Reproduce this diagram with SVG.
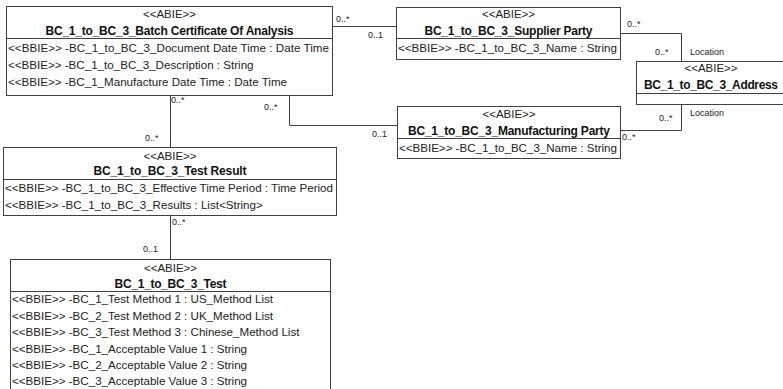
<svg xmlns="http://www.w3.org/2000/svg" width="783" height="389" viewBox="0 0 783 389">
<style>
.box{fill:#fff;stroke:#404040;stroke-width:1}
.sep{stroke:#404040;stroke-width:1}
.st{font-family:"Liberation Sans",Arial,sans-serif;font-size:11.5px;fill:#222;text-anchor:middle}
.tt{font-family:"Liberation Sans",Arial,sans-serif;font-size:12px;font-weight:bold;fill:#111;text-anchor:middle}
.at{font-family:"Liberation Sans",Arial,sans-serif;font-size:11.6px;fill:#222}
.lb{font-family:"Liberation Sans",Arial,sans-serif;font-size:9px;fill:#222}
.cn{fill:none;stroke:#404040;stroke-width:1}
</style>
<rect width="783" height="389" fill="#fff"/>
<g id="connectors">
<polyline class="cn" points="333,26.5 396,26.5"/>
<polyline class="cn" points="621,33.5 681.5,33.5 681.5,61"/>
<polyline class="cn" points="621,130.5 681.5,130.5 681.5,105"/>
<polyline class="cn" points="289.5,96 289.5,125.5 397,125.5"/>
<polyline class="cn" points="170.5,96 170.5,147"/>
<polyline class="cn" points="170.5,216 170.5,259"/>
<text class="lb" x="336" y="22">0..*</text>
<text class="lb" x="368" y="38">0..1</text>
<text class="lb" x="627" y="27">0..*</text>
<text class="lb" x="655" y="55">0..*</text>
<text class="lb" x="690" y="55">Location</text>
<text class="lb" x="659" y="121">0..*</text>
<text class="lb" x="690" y="116">Location</text>
<text class="lb" x="622" y="140">0..*</text>
<text class="lb" x="171" y="103">0..*</text>
<text class="lb" x="264" y="110">0..*</text>
<text class="lb" x="372" y="137">0..1</text>
<text class="lb" x="145" y="141">0..*</text>
<text class="lb" x="172" y="225">0..*</text>
<text class="lb" x="143" y="252">0..1</text>
</g>
<g id="batch">
<rect class="box" x="6.5" y="6.5" width="326" height="89"/>
<line class="sep" x1="6.5" y1="38.5" x2="332.5" y2="38.5"/>
<text class="st" x="169.5" y="18">&lt;&lt;ABIE&gt;&gt;</text>
<text class="tt" x="169.5" y="35" textLength="248">BC_1_to_BC_3_Batch Certificate Of Analysis</text>
<text class="at" x="8" y="52" textLength="321">&lt;&lt;BBIE&gt;&gt; -BC_1_to_BC_3_Document Date Time : Date Time</text>
<text class="at" x="8" y="69">&lt;&lt;BBIE&gt;&gt; -BC_1_to_BC_3_Description : String</text>
<text class="at" x="8" y="86">&lt;&lt;BBIE&gt;&gt; -BC_1_Manufacture Date Time : Date Time</text>
</g>
<g id="supplier">
<rect class="box" x="396.5" y="7.5" width="224" height="52"/>
<line class="sep" x1="396.5" y1="38.5" x2="620.5" y2="38.5"/>
<text class="st" x="508.5" y="18">&lt;&lt;ABIE&gt;&gt;</text>
<text class="tt" x="508.5" y="35" textLength="168">BC_1_to_BC_3_Supplier Party</text>
<text class="at" x="398" y="52" textLength="219">&lt;&lt;BBIE&gt;&gt; -BC_1_to_BC_3_Name : String</text>
</g>
<g id="address">
<rect class="box" x="636.5" y="61.5" width="155" height="43"/>
<line class="sep" x1="636.5" y1="93.5" x2="791" y2="93.5"/>
<text class="st" x="711" y="72">&lt;&lt;ABIE&gt;&gt;</text>
<text class="tt" x="711" y="89" textLength="134">BC_1_to_BC_3_Address</text>
</g>
<g id="manufacturing">
<rect class="box" x="397.5" y="106.5" width="223" height="52"/>
<line class="sep" x1="397.5" y1="138.5" x2="620.5" y2="138.5"/>
<text class="st" x="509" y="118">&lt;&lt;ABIE&gt;&gt;</text>
<text class="tt" x="509" y="135" textLength="202">BC_1_to_BC_3_Manufacturing Party</text>
<text class="at" x="399" y="152" textLength="218">&lt;&lt;BBIE&gt;&gt; -BC_1_to_BC_3_Name : String</text>
</g>
<g id="testresult">
<rect class="box" x="3.5" y="147.5" width="333" height="68"/>
<line class="sep" x1="3.5" y1="179.5" x2="336.5" y2="179.5"/>
<text class="st" x="170" y="160">&lt;&lt;ABIE&gt;&gt;</text>
<text class="tt" x="170" y="175" textLength="153">BC_1_to_BC_3_Test Result</text>
<text class="at" x="5" y="192" textLength="328">&lt;&lt;BBIE&gt;&gt; -BC_1_to_BC_3_Effective Time Period : Time Period</text>
<text class="at" x="5" y="209">&lt;&lt;BBIE&gt;&gt; -BC_1_to_BC_3_Results : List&lt;String&gt;</text>
</g>
<g id="test">
<rect class="box" x="10.5" y="259.5" width="320" height="140"/>
<line class="sep" x1="10.5" y1="291.5" x2="330.5" y2="291.5"/>
<text class="st" x="170.5" y="272">&lt;&lt;ABIE&gt;&gt;</text>
<text class="tt" x="170.5" y="288" textLength="112">BC_1_to_BC_3_Test</text>
<text class="at" x="12" y="303">&lt;&lt;BBIE&gt;&gt; -BC_1_Test Method 1 : US_Method List</text>
<text class="at" x="12" y="320">&lt;&lt;BBIE&gt;&gt; -BC_2_Test Method 2 : UK_Method List</text>
<text class="at" x="12" y="336">&lt;&lt;BBIE&gt;&gt; -BC_3_Test Method 3 : Chinese_Method List</text>
<text class="at" x="12" y="353">&lt;&lt;BBIE&gt;&gt; -BC_1_Acceptable Value 1 : String</text>
<text class="at" x="12" y="369">&lt;&lt;BBIE&gt;&gt; -BC_2_Acceptable Value 2 : String</text>
<text class="at" x="12" y="385">&lt;&lt;BBIE&gt;&gt; -BC_3_Acceptable Value 3 : String</text>
</g>
</svg>
